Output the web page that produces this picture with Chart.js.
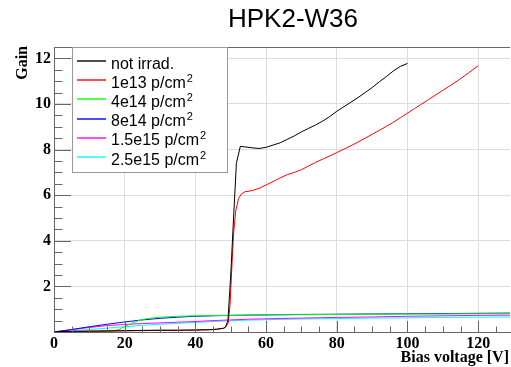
<!DOCTYPE html>
<html><head><meta charset="utf-8">
<script src="https://cdn.jsdelivr.net/npm/chart.js@4/dist/chart.umd.min.js"></script>
<style>html,body{margin:0;padding:0;background:#fff}canvas{display:block}</style>
</head><body>
<canvas id="c" width="511" height="367"></canvas>
<script>
const chartTitle = "HPK2-W36";
const xAxisTitle = "Bias voltage [V]";
const yAxisTitle = "Gain";
const xTickValues = [0, 20, 40, 60, 80, 100, 120];
const yTickValues = [2, 4, 6, 8, 10, 12];
const legendLabels = ["not irrad.", "1e13 p/cm^2", "4e14 p/cm^2", "8e14 p/cm^2", "1.5e15 p/cm^2", "2.5e15 p/cm^2"];

const voltNotIrrad = [0,5,10,15,20,25,30,35,40,44,46,48,48.5,49.2,50,50.8,51.6,52.7,54,56,58,60,62,64,66,68,70,72,74,76,78,80,82,84,86,88,90,92,94,96,98,100];
const gainNotIrrad = [0.02,0.03,0.04,0.05,0.06,0.07,0.08,0.08,0.09,0.1,0.12,0.17,0.22,0.5,2.5,5.0,7.4,8.14,8.12,8.08,8.05,8.1,8.2,8.3,8.45,8.6,8.78,8.93,9.08,9.25,9.45,9.68,9.88,10.08,10.28,10.5,10.72,10.97,11.2,11.45,11.65,11.78];

const volt1e13 = [0,5,10,15,20,25,30,35,40,44,46,48,48.5,49.3,49.8,50.3,50.8,51.4,52.2,53,54,56,58,60,62,64,66,68,70,72,74,76,78,80,82,84,86,88,90,92,94,96,98,100,102,104,106,108,110,112,114,116,118,120];
const gain1e13 = [0.01,0.02,0.03,0.04,0.05,0.06,0.07,0.07,0.08,0.1,0.12,0.16,0.2,0.4,1.2,2.8,4.3,5.3,5.85,6.05,6.15,6.2,6.3,6.45,6.6,6.76,6.9,7.0,7.12,7.28,7.44,7.58,7.72,7.87,8.02,8.17,8.33,8.5,8.67,8.84,9.02,9.2,9.4,9.6,9.8,10.0,10.2,10.4,10.6,10.8,11.0,11.22,11.45,11.68];

const volt4e14 = [0,5,10,15,17,18.5,20,21.5,23,25,27,30,35,40,50,60,70,80,90,100,110,120,130];
const gain4e14 = [0,0.01,0.02,0.03,0.05,0.12,0.25,0.34,0.45,0.55,0.6,0.65,0.69,0.71,0.73,0.75,0.76,0.77,0.78,0.79,0.79,0.8,0.8];

const volt8e14 = [0,5,10,15,20,25,30,35,40,45,50,60,70,80,90,100,110,120,130];
const gain8e14 = [0,0.11,0.23,0.34,0.44,0.53,0.6,0.65,0.69,0.71,0.73,0.75,0.77,0.78,0.79,0.8,0.81,0.82,0.83];

const volt1p5e15 = [0,5,10,15,20,25,30,35,40,45,50,55,60,70,80,90,100,110,120,130];
const gain1p5e15 = [0,0.1,0.2,0.28,0.33,0.37,0.4,0.43,0.46,0.5,0.53,0.56,0.58,0.61,0.64,0.66,0.69,0.71,0.73,0.74];

const volt2p5e15 = [0,5,10,15,20,25,30,35,40,45,50,55,60,70,80,90,100,110,120,130];
const gain2p5e15 = [0,0.05,0.11,0.17,0.23,0.29,0.34,0.38,0.42,0.46,0.49,0.52,0.54,0.57,0.59,0.61,0.62,0.64,0.65,0.66];

const seriesVolts = [voltNotIrrad, volt1e13, volt4e14, volt8e14, volt1p5e15, volt2p5e15];
const seriesGains = [gainNotIrrad, gain1e13, gain4e14, gain8e14, gain1p5e15, gain2p5e15];
const seriesColors = ['#000000', '#ff0000', '#00ff00', '#0000ff', '#ff00ff', '#00ffff'];

const datasets = seriesVolts.map((vs, i) => ({
  label: legendLabels[i],
  data: vs.map((v, k) => ({x: v, y: seriesGains[i][k]})),
  borderColor: seriesColors[i],
  backgroundColor: seriesColors[i],
  borderWidth: 1,
  pointRadius: 0,
  tension: 0,
  fill: false
}));

const AXIS_COLOR = '#666666';
const GRID_COLOR = '#dedede';
const serifBold = {family: "'Liberation Serif', 'Times New Roman', serif", weight: 'bold', size: 16};

const decoPlugin = {
  id: 'rootDeco',
  afterDraw(chart) {
    const {ctx, chartArea: a, scales: {x, y}} = chart;
    ctx.save();
    ctx.strokeStyle = AXIS_COLOR;
    ctx.lineWidth = 1;
    ctx.beginPath();
    ctx.moveTo(a.left, a.top + 0.5); ctx.lineTo(a.right, a.top + 0.5);
    for (let v = 0; v <= x.max + 1e-9; v += 5) {
      const px = Math.round(x.getPixelForValue(v)) + 0.5;
      const len = (v % 20 === 0) ? 11 : 5.5;
      ctx.moveTo(px, a.bottom); ctx.lineTo(px, a.bottom - len);
    }
    for (let v = 0; v <= y.max + 1e-9; v += 0.5) {
      const py = Math.round(y.getPixelForValue(v)) + 0.5;
      const len = (Math.abs(v % 2) < 1e-9) ? 17 : 8.5;
      ctx.moveTo(a.left, py); ctx.lineTo(a.left + len, py);
    }
    ctx.stroke();

    // legend
    const lx = 72.5, ly = 47.5, lw = 155, lh = 125;
    ctx.fillStyle = '#ffffff';
    ctx.fillRect(lx, ly, lw, lh);
    ctx.strokeStyle = '#999999';
    ctx.strokeRect(lx, ly, lw, lh);
    legendLabels.forEach((lab, i) => {
      const rowY = 61 + i * 19.2;
      ctx.strokeStyle = seriesColors[i];
      ctx.lineWidth = 1.4;
      ctx.beginPath();
      ctx.moveTo(77, Math.round(rowY)); ctx.lineTo(106, Math.round(rowY));
      ctx.stroke();
      const parts = lab.split('^');
      ctx.fillStyle = '#000';
      ctx.textAlign = 'left';
      ctx.textBaseline = 'alphabetic';
      ctx.font = "16px 'Liberation Sans', Arial, sans-serif";
      ctx.fillText(parts[0], 111, rowY + 7.5);
      if (parts[1]) {
        const w = ctx.measureText(parts[0]).width;
        ctx.font = "11px 'Liberation Sans', Arial, sans-serif";
        ctx.fillText(parts[1], 111 + w + 1, rowY + 1.5);
      }
    });

    // title
    ctx.fillStyle = '#000';
    ctx.font = "26px 'Liberation Sans', Arial, sans-serif";
    ctx.textAlign = 'center';
    ctx.textBaseline = 'alphabetic';
    ctx.fillText(chartTitle, 293, 27);

    // axis titles
    ctx.font = "bold 16px 'Liberation Serif', 'Times New Roman', serif";
    ctx.textAlign = 'right';
    ctx.fillText(xAxisTitle, 509, 362);
    ctx.save();
    ctx.translate(27, 46);
    ctx.rotate(-Math.PI / 2);
    ctx.textAlign = 'right';
    ctx.fillText(yAxisTitle, 0, 0);
    ctx.restore();
    ctx.restore();
  }
};

new Chart(document.getElementById('c'), {
  type: 'line',
  data: {datasets},
  options: {
    responsive: false,
    animation: false,
    devicePixelRatio: 1,
    layout: {padding: {top: 47, right: 1, left: 0, bottom: 0}},
    plugins: {legend: {display: false}, tooltip: {enabled: false}, title: {display: false}},
    scales: {
      x: {
        type: 'linear', min: 0, max: 129,
        afterBuildTicks: s => { s.ticks = xTickValues.map(v => ({value: v})); },
        afterFit: s => { s.height = 35; },
        ticks: {font: serifBold, color: '#000', padding: 2, maxRotation: 0, autoSkip: false},
        grid: {color: GRID_COLOR, drawTicks: false, tickLength: 0},
        border: {display: true, color: AXIS_COLOR, width: 1}
      },
      y: {
        type: 'linear', min: 0, max: 12.5,
        afterBuildTicks: s => { s.ticks = yTickValues.map(v => ({value: v})); },
        afterFit: s => { s.width = 54; },
        ticks: {font: serifBold, color: '#000', padding: 3, autoSkip: false},
        grid: {color: GRID_COLOR, drawTicks: false, tickLength: 0},
        border: {display: true, color: AXIS_COLOR, width: 1}
      }
    }
  },
  plugins: [decoPlugin]
});
</script>
</body></html>
